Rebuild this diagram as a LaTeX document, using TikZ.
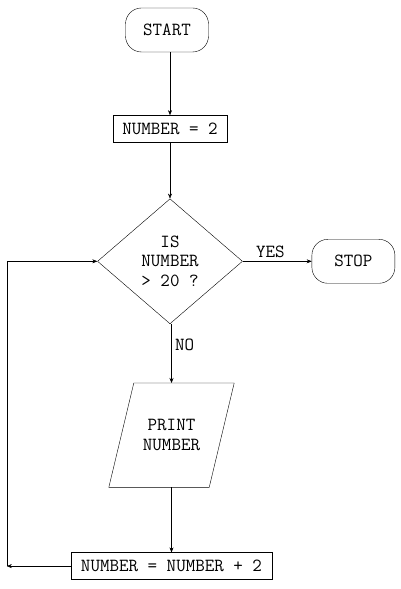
\documentclass[tikz,border=0pt]{standalone}
\usepackage{fontspec}
\usetikzlibrary{shapes.geometric, positioning, arrows.meta}
\tikzset{
->, % makes the edges directed
>={Stealth[length=5pt, width=4pt]}, % small filled arrow heads
line width=0.85pt,
every node/.style={font=\ttfamily\fontsize{18.5}{19.5}\selectfont, align=center},
term/.style={draw, rectangle, rounded corners=16pt, minimum width=83pt, minimum height=44pt}, % start and stop
proc/.style={draw, rectangle, minimum height=27pt, inner sep=0pt}, % assignments
decision/.style={draw, diamond, aspect=1.16, inner sep=0pt, minimum width=145pt, minimum height=125pt},
io/.style={rectangle, minimum width=100pt, minimum height=104pt}, % outline slanted below
}

\begin{document}
\begin{tikzpicture}[x=1pt, y=1pt]
        \useasboundingbox (0,0) rectangle (401,589);
        \node[term] (start) at (167,559) {START};
        \node[proc, minimum width=114pt, below=63pt of start, xshift=3pt] (init) {NUMBER = 2};
        \node[decision, below=56pt of init] (test) {IS\\NUMBER\\> 20 ?};
        \node[term, right=69pt of test] (stop) {STOP};
        \node[io, below=59pt of test, xshift=1.5pt] (print) {PRINT\\NUMBER};
        \node[proc, minimum width=201pt, below=65pt of print] (incr) {NUMBER = NUMBER + 2};
        \coordinate[left=64pt of incr] (back);

        % parallelogram for the output
        \draw[-] ([xshift=12.5pt]print.north west) -- ([xshift=12.5pt]print.north east)
        -- ([xshift=-12.5pt]print.south east) -- ([xshift=-12.5pt]print.south west) -- cycle;

        \draw (init.north |- start.south) -- (init);
        \draw (init) -- (test.north -| init);
        \draw (test) -- node[above, pos=0.4]{YES} (stop);
        \draw (print.north |- test.south) -- node[right, pos=0.35]{NO} (print);
        \draw (print) -- (incr);
        \draw (incr) -- (back);
        \draw (back) |- (test);
      \end{tikzpicture}
\end{document}
